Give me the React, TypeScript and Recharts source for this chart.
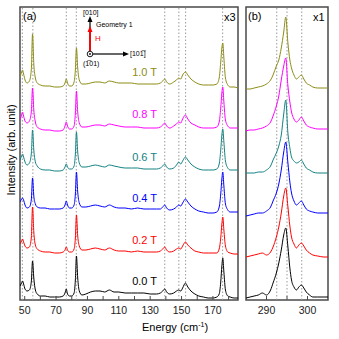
import React from "react";
import { LineChart, Line, XAxis, YAxis, ReferenceLine, ReferenceArea } from "recharts";

// panel (a): low-energy spectra (x3), offsets stacked bottom to top
const energyA = [
  47, 48, 48.6, 49.3, 50.2, 51.5, 53, 54.2, 55, 55.8, 56.8, 58, 60, 63, 66, 69, 72, 74.5,
  75.7, 76.5, 77.3, 78.5, 80, 81.5, 82.3, 83, 83.8, 84.8, 86.5, 89, 92, 95, 98, 101, 104,
  107, 110, 114, 118, 122, 126, 130, 134, 136.5, 138, 139.3, 140.5, 142.5, 145, 146.8,
  148.2, 149.5, 150.7, 152.5, 154, 156, 158.5, 161, 164, 167, 170, 172.5, 174, 175,
  175.7, 176.3, 177, 178, 179.5, 181, 183.5, 186,
];
const a00 = [
  14, 17, 19, 16, 11, 9, 10, 18, 39, 22, 10, 6, 4, 4, 3, 3, 3, 4, 7, 11, 6, 4, 4, 7, 20, 44,
  22, 9, 5, 6, 8, 9, 9, 8, 10, 8, 8, 7, 7, 7, 7, 6, 6, 7, 9, 11, 8, 6, 7, 9, 10, 9, 12, 17,
  13, 9, 6, 4, 3, 2, 2, 3, 6, 18, 34, 42, 28, 10, 4, 3, 2, 2,
];
const a02 = [
  56, 59, 61, 58, 54, 52, 53, 62, 93, 68, 55, 51, 49, 48, 48, 47, 47, 48, 50, 53, 50, 48,
  48, 51, 62, 85, 64, 54, 50, 50, 51, 52, 51, 50, 52, 50, 49, 49, 48, 49, 48, 48, 48, 49,
  51, 53, 50, 48, 49, 51, 52, 51, 54, 58, 55, 52, 49, 48, 47, 47, 47, 47, 51, 62, 76, 83,
  70, 54, 48, 47, 46, 46,
];
const a04 = [
  98, 101, 102, 100, 95, 92, 93, 100, 122, 104, 96, 93, 92, 92, 91, 91, 91, 92, 95, 99, 95,
  92, 92, 95, 106, 128, 108, 97, 93, 93, 94, 95, 94, 93, 95, 93, 92, 92, 91, 92, 91, 91, 91,
  91, 93, 95, 92, 90, 91, 93, 95, 94, 97, 101, 98, 94, 91, 89, 88, 87, 87, 88, 93, 106, 121,
  128, 114, 96, 90, 88, 88, 88,
];
const a06 = [
  140, 144, 146, 143, 138, 135, 137, 146, 170, 150, 138, 134, 131, 130, 130, 129, 129, 130,
  133, 136, 133, 131, 131, 134, 146, 168, 148, 137, 133, 133, 134, 135, 134, 133, 135, 134,
  133, 132, 132, 132, 131, 131, 131, 132, 134, 136, 133, 131, 132, 135, 138, 136, 139, 143,
  140, 136, 133, 131, 130, 130, 130, 131, 136, 150, 165, 171, 158, 139, 132, 130, 130, 130,
];
const a08 = [
  180, 185, 188, 184, 179, 177, 179, 188, 212, 190, 178, 173, 171, 170, 170, 169, 169, 170,
  174, 178, 174, 171, 171, 174, 187, 209, 188, 177, 173, 173, 174, 175, 175, 174, 176, 175,
  174, 173, 173, 173, 172, 172, 172, 173, 175, 177, 174, 172, 174, 176, 178, 177, 181, 185,
  181, 177, 175, 173, 172, 172, 172, 173, 178, 192, 207, 213, 198, 180, 174, 172, 172, 172,
];
const a10 = [
  223, 228, 230, 226, 220, 217, 219, 230, 266, 236, 222, 217, 215, 214, 214, 213, 213, 214,
  217, 221, 217, 214, 214, 218, 230, 252, 232, 220, 216, 216, 217, 218, 218, 217, 219, 218,
  217, 217, 217, 216, 216, 216, 216, 217, 219, 221, 218, 216, 218, 220, 222, 221, 225, 228,
  225, 221, 218, 216, 215, 215, 215, 216, 222, 238, 252, 257, 242, 222, 215, 213, 213, 212,
];

// panel (b): 295 cm-1 mode (x1)
const energyB = [
  285, 286, 287, 288, 289, 290, 291, 291.6, 292.4, 293, 293.6, 294.2, 294.7, 295.2, 295.7,
  296.1, 296.7, 297.3, 297.9, 298.5, 299.1, 299.7, 300.5, 301.3, 302.5, 304, 305,
];
const b00 = [2, 3, 4, 5, 7, 5, 10, 17, 27, 37, 50, 65, 72, 54, 32, 20, 13, 10, 13, 15, 12, 8, 5, 3, 3, 3, 3];
const b02 = [43, 44, 45, 46, 47, 45, 48, 53, 63, 73, 87, 104, 112, 94, 74, 63, 56, 52, 55, 57, 54, 50, 47, 45, 44, 43, 43];
const b04 = [84, 85, 86, 87, 87, 89, 93, 99, 107, 116, 130, 148, 158, 138, 118, 107, 99, 95, 97, 99, 95, 91, 89, 88, 87, 87, 87];
const b06 = [127, 127, 127, 128, 128, 130, 134, 140, 147, 154, 165, 186, 200, 168, 152, 143, 139, 137, 138, 140, 136, 132, 130, 128, 127, 127, 127];
const b08 = [169, 170, 170, 171, 172, 174, 178, 184, 194, 204, 220, 234, 242, 215, 198, 188, 181, 178, 180, 183, 179, 175, 173, 172, 171, 171, 171];
const b10 = [211, 211, 212, 213, 214, 216, 220, 225, 234, 240, 252, 268, 283, 258, 240, 232, 225, 221, 223, 225, 221, 217, 215, 213, 212, 212, 212];

const fields = ["0.0 T", "0.2 T", "0.4 T", "0.6 T", "0.8 T", "1.0 T"];
const peaksA = [48.5, 55.2, 76.5, 82.9, 139.3, 148.3, 152.6, 176.2];
const peaksB = [292.5, 295, 298.6];
const ticksA = [50, 60, 70, 80, 90, 100, 110, 120, 130, 140, 150, 160, 170, 180];
const ticksB = [290, 295, 300];

const colors = ["#000000", "#ff0000", "#0000ff", "#128282", "#ff00ff", "#8c8c14"];
const labelTop = [276, 235, 193, 152, 109, 67];
const keys = ["s0", "s1", "s2", "s3", "s4", "s5"];
const FONT = "'Liberation Sans', Arial, sans-serif";
const FRAME = "#4a4a4a";

const seriesA = [a00, a02, a04, a06, a08, a10];
const seriesB = [b00, b02, b04, b06, b08, b10];
const rowsA = energyA.map((e, i) => {
  const r: any = { e };
  seriesA.forEach((s, k) => (r[keys[k]] = s[i]));
  return r;
});
const rowsB = energyB.map((e, i) => {
  const r: any = { e };
  seriesB.forEach((s, k) => (r[keys[k]] = s[i]));
  return r;
});

function Panel({ rows, domain, ticks, peaks, label, width, margin }: any) {
  return (
    <LineChart width={width} height={339} data={rows} margin={margin}>
      <YAxis hide type="number" domain={[0, 293]} allowDataOverflow />
      <XAxis
        type="number"
        dataKey="e"
        domain={domain}
        ticks={ticks}
        allowDataOverflow
        height={39}
        axisLine={false}
        tickSize={-4}
        tickMargin={11}
        tickLine={{ stroke: FRAME }}
        tick={{ fontSize: 10.5, fill: "#222", fontFamily: FONT }}
        tickFormatter={label}
      />
      {peaks.map((p: number) => (
        <ReferenceLine key={p} x={p} stroke="#9a9a9a" strokeDasharray="1.5 2" strokeWidth={1} />
      ))}
      {keys.map((k, i) => (
        <Line
          key={k}
          dataKey={k}
          type="monotone"
          stroke={colors[i]}
          strokeWidth={1}
          dot={false}
          isAnimationActive={false}
        />
      ))}
      <ReferenceArea
        x1={domain[0]}
        x2={domain[1]}
        y1={0}
        y2={293}
        fill="none"
        stroke={FRAME}
        strokeWidth={1.5}
        ifOverflow="visible"
      />
    </LineChart>
  );
}

const txt = (s: any) => ({ position: "absolute" as const, fontFamily: FONT, lineHeight: 1, whiteSpace: "nowrap" as const, ...s });

export default function App() {
  return (
    <div style={{ position: "absolute", left: 0, top: 0, width: 339, height: 339, background: "#fff", fontFamily: FONT }}>
      <div style={{ position: "absolute", left: 0, top: 0 }}>
        <Panel
          rows={rowsA}
          domain={[47, 186]}
          ticks={ticksA}
          peaks={peaksA}
          width={240}
          margin={{ top: 7, right: 2, bottom: 0, left: 20 }}
          label={(v: number) => (v % 20 === 10 ? String(v) : "")}
        />
      </div>
      <div style={{ position: "absolute", left: 240, top: 0 }}>
        <Panel
          rows={rowsB}
          domain={[285, 305]}
          ticks={ticksB}
          peaks={peaksB}
          width={99}
          margin={{ top: 7, right: 11, bottom: 0, left: 6 }}
          label={(v: number) => (v === 295 ? "" : String(v))}
        />
      </div>

      {fields.map((f, i) => (
        <div key={f} style={txt({ right: 339 - 157, top: labelTop[i], fontSize: 11, color: colors[i] })}>
          {f}
        </div>
      ))}

      <div style={txt({ left: 23, top: 11, fontSize: 11 })}>(a)</div>
      <div style={txt({ left: 224, top: 12, fontSize: 11 })}>x3</div>
      <div style={txt({ left: 248, top: 11, fontSize: 11 })}>(b)</div>
      <div style={txt({ left: 313, top: 12, fontSize: 11 })}>x1</div>

      <div
        style={txt({
          left: 11,
          top: 150,
          fontSize: 11,
          transform: "translate(-50%, -50%) rotate(-90deg)",
        })}
      >
        Intensity (arb. unit)
      </div>
      <div style={txt({ left: 142, top: 322, fontSize: 11 })}>
        Energy (cm<sup style={{ fontSize: 7, verticalAlign: "4px", lineHeight: 0 }}>-1</sup>)
      </div>

      {/* geometry inset */}
      <svg width={160} height={75} style={{ position: "absolute", left: 0, top: 0 }}>
        <line x1={90} y1={51} x2={90} y2={21} stroke="#000" strokeWidth={1.2} />
        <polygon points="90,16 87.5,22 92.5,22" fill="#000" />
        <line x1={90} y1={51} x2={90} y2={30} stroke="#ff0000" strokeWidth={1.8} />
        <polygon points="90,26 87.5,32 92.5,32" fill="#ff0000" />
        <line x1={93} y1={54} x2={124} y2={54} stroke="#000" strokeWidth={1.2} />
        <polygon points="129,54 123,51.5 123,56.5" fill="#000" />
        <circle cx={90} cy={54} r={2.8} fill="#fff" stroke="#000" strokeWidth={0.9} />
        <circle cx={90} cy={54} r={0.9} fill="#000" />
      </svg>
      <div style={txt({ left: 83, top: 9, fontSize: 7 })}>[010]</div>
      <div style={txt({ left: 96, top: 21, fontSize: 7 })}>Geometry 1</div>
      <div style={txt({ left: 95, top: 35, fontSize: 8, color: "#ff0000" })}>H</div>
      <div style={txt({ left: 130, top: 50, fontSize: 7 })}>[10{"1\u0305"}]</div>
      <div style={txt({ left: 83, top: 60, fontSize: 7 })}>({"1\u0305"}01)</div>
    </div>
  );
}
